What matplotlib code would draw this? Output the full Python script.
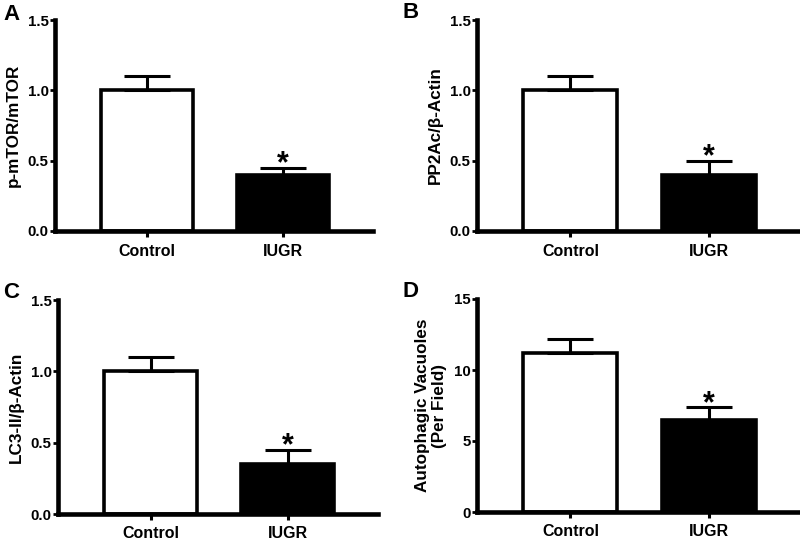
import matplotlib
matplotlib.use('Agg')
import matplotlib.pyplot as plt

plt.rcParams['font.family'] = ['Liberation Sans', 'DejaVu Sans']
plt.rcParams['font.weight'] = 'bold'

groups = ['Control', 'IUGR']

# panel values (mean, upper error)
mtor_mean = [1.0, 0.40]
mtor_err = [0.10, 0.05]
pp2a_mean = [1.0, 0.40]
pp2a_err = [0.10, 0.10]
lc3_mean = [1.0, 0.35]
lc3_err = [0.10, 0.10]
vac_mean = [11.2, 6.5]
vac_err = [0.95, 0.9]

W, H = 800, 538

# letter, ylabel, mean, err, ymax, yticks, labels, axes box (px: left, top, right, bottom), letter pos (px)
panels = [
    ('A', 'p-mTOR/mTOR', mtor_mean, mtor_err, 1.5, [0.0, 0.5, 1.0, 1.5], ['0.0', '0.5', '1.0', '1.5'],
     (55, 20, 373, 231), (3, 20)),
    ('B', 'PP2Ac/\u03b2-Actin', pp2a_mean, pp2a_err, 1.5, [0.0, 0.5, 1.0, 1.5], ['0.0', '0.5', '1.0', '1.5'],
     (477, 20, 800, 231), (403, 18)),
    ('C', 'LC3-II/\u03b2-Actin', lc3_mean, lc3_err, 1.5, [0.0, 0.5, 1.0, 1.5], ['0.0', '0.5', '1.0', '1.5'],
     (58, 300, 378, 514), (3, 298)),
    ('D', 'Autophagic Vacuoles\n(Per Field)', vac_mean, vac_err, 15, [0, 5, 10, 15], ['0', '5', '10', '15'],
     (477, 299, 800, 512), (403, 297)),
]

fig = plt.figure(figsize=(8, 5.38), dpi=100)

for letter, ylabel, mean, err, ymax, yt, ytl, box, lp in panels:
    l, t, r, b = box
    ax = fig.add_axes([l / W, 1 - b / H, (r - l) / W, (b - t) / H])
    x = [0, 1]
    ax.bar(x, mean, width=0.68, color=['white', 'black'], edgecolor='black', linewidth=2.6, zorder=2)
    ax.errorbar(x, mean, yerr=[[0, 0], err], fmt='none', ecolor='black', elinewidth=2.2,
                capsize=16.5, capthick=2.2, zorder=3)
    ax.annotate('*', (1, mean[1] + err[1]), xytext=(0, -3.5), textcoords='offset points',
                ha='center', va='baseline', fontsize=22, fontweight='bold')
    ax.set_xlim(-0.676, 1.66)
    ax.set_ylim(0, ymax)
    ax.set_yticks(yt)
    ax.set_yticklabels(ytl)
    ax.set_xticks(x)
    ax.set_xticklabels(groups)
    for s in ['top', 'right']:
        ax.spines[s].set_visible(False)
    for s in ['left', 'bottom']:
        ax.spines[s].set_linewidth(3.3)
    ax.tick_params(axis='y', width=2, length=3.6, labelsize=10.8, pad=1)
    ax.tick_params(axis='x', width=2.2, length=4.5, labelsize=11.5, pad=4.5)
    ax.set_ylabel(ylabel, fontsize=12.3, fontweight='bold', labelpad=5)
    ax.set_facecolor('none')
    fig.text(lp[0] / W, 1 - lp[1] / H, letter, fontsize=16, fontweight='bold',
             ha='left', va='baseline')

fig.savefig('out.png', dpi=100)
